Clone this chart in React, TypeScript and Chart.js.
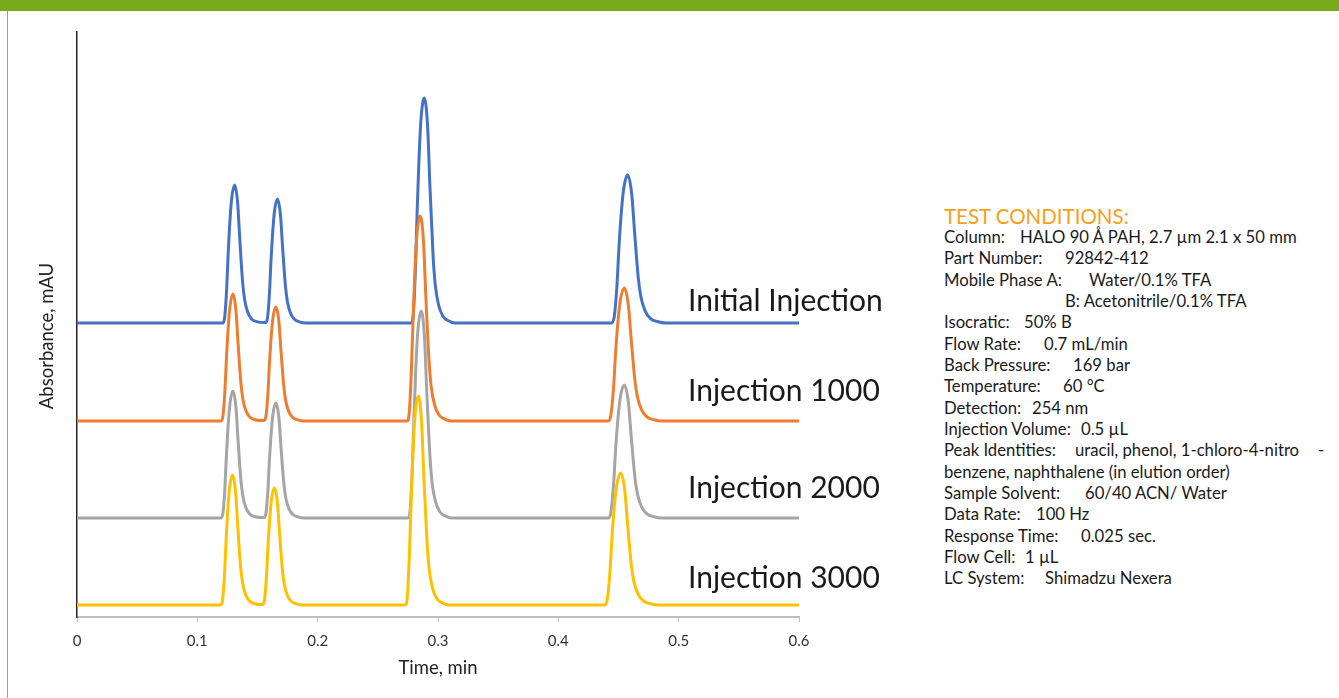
import React, { useEffect, useRef } from "react";
import { Chart, registerables } from "chart.js";

Chart.register(...registerables);

// ---- data (time in min, absorbance in mAU, traces offset vertically) ----
const timeTicks = [0, 0.1, 0.2, 0.3, 0.4, 0.5, 0.6];
const seriesNames = ["Initial Injection", "Injection 1000", "Injection 2000", "Injection 3000"];
const seriesColors = ["#4472c4", "#ed7d31", "#a5a5a5", "#ffc000"];

const timeInitial = [
  0,
  0.1210, 0.1227, 0.1244, 0.1256, 0.1268, 0.1285, 0.1310, 0.1335, 0.1352, 0.1376, 0.1393, 0.1418, 0.1451, 0.1493,
  0.1566, 0.1583, 0.1600, 0.1612, 0.1624, 0.1641, 0.1666, 0.1691, 0.1708, 0.1732, 0.1749, 0.1774, 0.1807, 0.1849, 0.1898,
  0.2776, 0.2795, 0.2813, 0.2827, 0.2840, 0.2858, 0.2886, 0.2914, 0.2932, 0.2959, 0.2977, 0.3005, 0.3041, 0.3087, 0.3141,
  0.4441, 0.4464, 0.4487, 0.4503, 0.4519, 0.4542, 0.4576, 0.4610, 0.4633, 0.4665, 0.4688, 0.4722, 0.4766, 0.4823, 0.4889,
  0.6,
];
const absInitial = [
  294,
  294, 299.5, 328.5, 363, 390.6, 418.2, 432, 414.1, 379.6, 335.4, 317.5, 305, 298.1, 295.4,
  294.5, 299, 325, 356, 380.8, 405.6, 418, 401.9, 370.9, 331.2, 315.1, 303.9, 297.7, 295.2, 294,
  294, 303, 350.3, 406.5, 451.5, 496.5, 519, 489.8, 433.5, 361.5, 332.3, 312, 300.8, 296.3, 294,
  294, 299.9, 331, 368, 397.6, 427.2, 442, 422.8, 385.8, 338.4, 319.2, 305.8, 298.4, 295.5, 294,
  294,
];

const time1000 = [
  0,
  0.1196, 0.1213, 0.1230, 0.1242, 0.1254, 0.1271, 0.1296, 0.1321, 0.1338, 0.1362, 0.1379, 0.1404, 0.1437, 0.1479,
  0.1553, 0.1570, 0.1587, 0.1599, 0.1611, 0.1628, 0.1653, 0.1678, 0.1695, 0.1719, 0.1736, 0.1761, 0.1794, 0.1836, 0.1885,
  0.2742, 0.2761, 0.2779, 0.2793, 0.2806, 0.2824, 0.2852, 0.2880, 0.2898, 0.2925, 0.2943, 0.2971, 0.3007, 0.3053, 0.3107,
  0.4413, 0.4436, 0.4459, 0.4475, 0.4491, 0.4514, 0.4548, 0.4582, 0.4605, 0.4637, 0.4660, 0.4694, 0.4738, 0.4795, 0.4861,
  0.6,
];
const abs1000 = [
  196,
  196, 201.1, 227.8, 259.5, 284.9, 310.3, 323, 306.5, 274.7, 234.1, 217.6, 206.2, 199.8, 197.3,
  196.5, 200.6, 224.5, 253, 275.8, 298.6, 310, 295.2, 266.7, 230.2, 215.4, 205.1, 199.4, 197.1, 196,
  196, 204.2, 247.3, 298.5, 339.5, 380.5, 401, 374.4, 323.1, 257.5, 230.9, 212.4, 202.2, 198.1, 196,
  196, 201.3, 229.3, 262.5, 289.1, 315.7, 329, 311.7, 278.5, 235.9, 218.6, 206.6, 200, 197.3, 196,
  196,
];

const time2000 = [
  0,
  0.1196, 0.1213, 0.1230, 0.1242, 0.1254, 0.1271, 0.1296, 0.1321, 0.1338, 0.1362, 0.1379, 0.1404, 0.1437, 0.1479,
  0.1553, 0.1570, 0.1587, 0.1599, 0.1611, 0.1628, 0.1653, 0.1678, 0.1695, 0.1719, 0.1736, 0.1761, 0.1794, 0.1836, 0.1885,
  0.2750, 0.2769, 0.2787, 0.2801, 0.2814, 0.2832, 0.2860, 0.2888, 0.2906, 0.2933, 0.2951, 0.2979, 0.3015, 0.3061, 0.3115,
  0.4413, 0.4436, 0.4459, 0.4475, 0.4491, 0.4514, 0.4548, 0.4582, 0.4605, 0.4637, 0.4660, 0.4694, 0.4738, 0.4795, 0.4861,
  0.6,
];
const abs2000 = [
  99,
  99, 104.1, 130.8, 162.5, 187.9, 213.3, 226, 209.5, 177.7, 137.1, 120.6, 109.2, 102.8, 100.3,
  99.5, 103.6, 127.8, 156.5, 179.5, 202.5, 214, 199.1, 170.3, 133.5, 118.6, 108.2, 102.5, 100.2, 99,
  99, 107.3, 150.8, 202.5, 243.9, 285.3, 306, 279.1, 227.3, 161.1, 134.2, 115.6, 105.2, 101.1, 99,
  99, 104.3, 132.3, 165.5, 192.1, 218.7, 232, 214.7, 181.5, 138.9, 121.6, 109.6, 103, 100.3, 99,
  99,
];

const time3000 = [
  0,
  0.1193, 0.1210, 0.1227, 0.1239, 0.1251, 0.1268, 0.1293, 0.1318, 0.1335, 0.1359, 0.1376, 0.1401, 0.1434, 0.1476,
  0.1541, 0.1558, 0.1575, 0.1587, 0.1599, 0.1616, 0.1641, 0.1666, 0.1683, 0.1707, 0.1724, 0.1749, 0.1782, 0.1824, 0.1873,
  0.2726, 0.2745, 0.2763, 0.2777, 0.2790, 0.2808, 0.2836, 0.2864, 0.2882, 0.2909, 0.2927, 0.2955, 0.2991, 0.3037, 0.3091,
  0.4383, 0.4406, 0.4429, 0.4445, 0.4461, 0.4484, 0.4518, 0.4552, 0.4575, 0.4607, 0.4630, 0.4664, 0.4708, 0.4765, 0.4831,
  0.6,
];
const abs3000 = [
  12,
  12, 17.2, 44.5, 77, 103, 129, 142, 125.1, 92.6, 51, 34.1, 22.4, 15.9, 13.3,
  12.5, 16.7, 41.3, 70.5, 93.9, 117.3, 129, 113.8, 84.5, 47.1, 31.9, 21.4, 15.5, 13.2, 12,
  12, 20.4, 64.3, 116.5, 158.3, 200.1, 221, 193.8, 141.6, 74.7, 47.5, 28.7, 18.3, 14.1, 12,
  12, 17.3, 45, 78, 104.4, 130.8, 144, 126.8, 93.8, 51.6, 34.4, 22.6, 16, 13.3, 12,
  12,
];

const seriesTimes = [timeInitial, time1000, time2000, time3000];
const seriesAbs = [absInitial, abs1000, abs2000, abs3000];

const conditionLines: [string, string, number][] = [
  ["Column:", "HALO 90 Å PAH, 2.7 µm 2.1 x 50 mm", 76],
  ["Part Number:", "92842-412", 121],
  ["Mobile Phase A:", "Water/0.1% TFA", 145],
  ["", "B:  Acetonitrile/0.1% TFA", 121],
  ["Isocratic:", "50% B", 80],
  ["Flow Rate:", "0.7 mL/min", 100],
  ["Back Pressure:", "169 bar", 129],
  ["Temperature:", "60 °C", 119],
  ["Detection:", "254 nm", 88],
  ["Injection Volume:", "0.5 µL", 137],
  ["Peak Identities:", "uracil, phenol, 1-chloro-4-nitro", 131],
  ["benzene, naphthalene (in elution order)", "", 0],
  ["Sample Solvent:", "60/40 ACN/ Water", 141],
  ["Data Rate:", "100 Hz", 92],
  ["Response Time:", "0.025 sec.", 137],
  ["Flow Cell:", "1 µL", 81],
  ["LC System:", "Shimadzu Nexera", 101],
];

const FONT = "Lato, 'Noto Sans', sans-serif";

export default function App() {
  const canvasRef = useRef<HTMLCanvasElement | null>(null);

  useEffect(() => {
    const canvas = canvasRef.current;
    if (!canvas) return;
    const datasets = seriesNames.map((name, i) => ({
      label: name,
      data: seriesTimes[i].map((t, j) => ({ x: t, y: seriesAbs[i][j] })),
      borderColor: seriesColors[i],
      backgroundColor: seriesColors[i],
      borderWidth: 3,
      pointRadius: 0,
      fill: false,
      cubicInterpolationMode: "monotone" as const,
      order: 4 - i,
    }));
    const chart = new Chart(canvas, {
      type: "line",
      data: { datasets },
      options: {
        animation: false,
        responsive: false,
        devicePixelRatio: 1,
        layout: { padding: { top: 32, left: 0, right: 101, bottom: 0 } },
        plugins: { legend: { display: false }, tooltip: { enabled: false } },
        scales: {
          x: {
            type: "linear",
            min: 0,
            max: 0.6,
            afterFit: (s: any) => {
              s.height = 81;
            },
            afterBuildTicks: (s: any) => {
              s.ticks = timeTicks.map((v) => ({ value: v }));
            },
            ticks: {
              padding: 10,
              color: "#333333",
              font: { family: FONT, size: 15 },
              callback: (v: any) => String(Number(Number(v).toFixed(1))),
              maxRotation: 0,
            },
            grid: {
              display: true,
              drawOnChartArea: false,
              drawTicks: true,
              tickLength: 5,
              color: "#bfbfbf",
              lineWidth: 1,
            },
            border: { display: true, color: "#bfbfbf", width: 2 },
          },
          y: {
            type: "linear",
            min: 0,
            max: 585,
            afterFit: (s: any) => {
              s.width = 77;
            },
            ticks: { display: false },
            grid: { display: false, drawTicks: false },
            border: { display: true, color: "#262626", width: 1.5 },
          },
        },
      },
    });
    return () => chart.destroy();
  }, []);

  const labelTops = [284, 374, 471, 561];

  return (
    <div
      style={{
        position: "absolute",
        left: 0,
        top: 0,
        width: 1339,
        height: 698,
        overflow: "hidden",
        background: "#ffffff",
        fontFamily: FONT,
      }}
    >
      <div style={{ position: "absolute", left: 0, top: 0, width: 1339, height: 11, background: "#77aa1c" }} />
      <div style={{ position: "absolute", left: 7, top: 11, width: 1, height: 687, background: "#8ab64a" }} />
      <canvas
        ref={canvasRef}
        width={900}
        height={698}
        style={{ position: "absolute", left: 0, top: 0, width: 900, height: 698 }}
      />
      {/* axis titles */}
      <div
        style={{
          position: "absolute",
          left: 338,
          top: 658,
          width: 200,
          textAlign: "center",
          fontSize: 18.5,
          lineHeight: "18.5px",
          color: "#222222",
          whiteSpace: "nowrap",
        }}
      >
        Time, min
      </div>
      <div
        style={{
          position: "absolute",
          left: 46,
          top: 336,
          width: 0,
          height: 0,
        }}
      >
        <div
          style={{
            position: "absolute",
            left: -100,
            top: -10,
            width: 200,
            textAlign: "center",
            fontSize: 18.5,
            lineHeight: "20px",
            color: "#222222",
            whiteSpace: "nowrap",
            transform: "rotate(-90deg)",
          }}
        >
          Absorbance, mAU
        </div>
      </div>
      {/* series labels */}
      {seriesNames.map((n, i) => (
        <div
          key={n}
          style={{
            position: "absolute",
            left: 688,
            top: labelTops[i],
            fontSize: 30,
            lineHeight: "30px",
            color: "#1a1a1a",
            whiteSpace: "nowrap",
          }}
        >
          {n}
        </div>
      ))}
      {/* test conditions */}
      <div style={{ position: "absolute", left: 944, top: 205.5, width: 395 }}>
        <div
          style={{
            height: 21.35,
            fontSize: 20.5,
            lineHeight: "21.35px",
            color: "#f6a01a",
            whiteSpace: "nowrap",
          }}
        >
          TEST CONDITIONS:
        </div>
        {conditionLines.map(([label, value, off], i) => (
          <div
            key={i}
            style={{
              position: "relative",
              height: 21.35,
              fontSize: 16.7,
              lineHeight: "21.35px",
              color: "#1a1a1a",
              whiteSpace: "nowrap",
            }}
          >
            <span>{label}</span>
            {value ? <span style={{ position: "absolute", left: off, top: 0 }}>{value}</span> : null}
            {label === "Peak Identities:" ? (
              <span style={{ position: "absolute", left: 374, top: 0 }}>-</span>
            ) : null}
          </div>
        ))}
      </div>
    </div>
  );
}
